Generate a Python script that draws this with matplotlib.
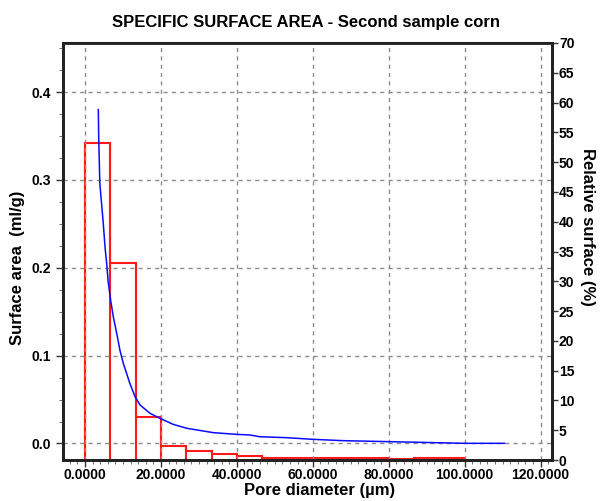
import numpy as np
import matplotlib
matplotlib.use("Agg")
import matplotlib.pyplot as plt
from matplotlib.ticker import MultipleLocator, FormatStrFormatter

plt.rcParams['font.family'] = ['Liberation Sans', 'DejaVu Sans']
plt.rcParams['font.weight'] = 'bold'

# red histogram: relative surface (%) per pore-diameter class
bin_edges = np.linspace(0, 100, 16)
rel_surface = [53.2, 33.0, 7.2, 2.35, 1.5, 1.0, 0.7, 0.3, 0.3, 0.3,
               0.3, 0.3, 0.1, 0.3, 0.3]

# blue curve: surface area (ml/g) vs pore diameter (um)
diam = [3.5, 3.6, 3.9, 4.4, 4.8, 5.3, 5.7, 6.1, 6.75, 7.46, 8.5, 9.2, 10.1,
        11.8, 13.2, 14.5, 17.1, 19.7, 23.2, 26.8, 33.8, 39.9, 43.4, 46.0,
        53.1, 59.7, 68.0, 87.3, 99.6, 110.5]
area = [0.380, 0.350, 0.296, 0.271, 0.251, 0.222, 0.205, 0.184, 0.163, 0.144,
        0.122, 0.106, 0.091, 0.0685, 0.053, 0.0438, 0.0344, 0.0287, 0.0218,
        0.0173, 0.0123, 0.0104, 0.0097, 0.0077, 0.0066, 0.0048, 0.0032,
        0.0014, 0.0002, 0.0002]

fig = plt.figure(figsize=(6.03, 5.01), dpi=100)
ax = fig.add_axes([63/603, 1 - 460/501, (552 - 63)/603, (460 - 43)/501])
ax2 = ax.twinx()

# histogram on the right axis
ax2.stairs(rel_surface, bin_edges, color='#ff1a1a', lw=1.5, baseline=0, fill=False)
for e, h_l, h_r in zip(bin_edges, [0] + rel_surface, rel_surface + [0]):
    ax2.plot([e, e], [0, max(h_l, h_r)], color='#ff1a1a', lw=1.5)

ax.plot(diam, area, color='#0a0aff', lw=1.1, zorder=5)
ax.set_zorder(ax2.get_zorder() + 1)
ax.patch.set_visible(False)

ax.set_xlim(-5.8, 123.0)
ax.set_ylim(-0.0188, 0.4558)
ax2.set_ylim(0, 70)

ax.xaxis.set_major_locator(MultipleLocator(20))
ax.xaxis.set_minor_locator(MultipleLocator(2))
ax.xaxis.set_major_formatter(FormatStrFormatter('%.4f'))
ax.yaxis.set_major_locator(MultipleLocator(0.1))
ax.yaxis.set_minor_locator(MultipleLocator(0.025))
ax.yaxis.set_major_formatter(FormatStrFormatter('%.1f'))
ax2.yaxis.set_major_locator(MultipleLocator(5))

ax.grid(True, which='major', color='#8c8c8c', ls=(0, (3, 3)), lw=1)

for a in (ax, ax2):
    a.tick_params(labelsize=10, width=1, color='#333333')
    for s in a.spines.values():
        s.set_linewidth(2)
        s.set_color('#222222')
ax.spines['top'].set_linewidth(1.5)
ax.tick_params(which='major', length=5)
ax.tick_params(axis='x', which='major', pad=1)
ax.tick_params(which='minor', length=3, color='#555555')
ax2.tick_params(length=4, pad=1)

ax.set_xlabel('Pore diameter (\u00b5m)', fontsize=12, fontweight='bold', labelpad=0)
ax.xaxis.set_label_coords(0.525, -0.055)
ax.set_ylabel('Surface area  (ml/g)', fontsize=12, fontweight='bold')
ax.yaxis.set_label_coords(-0.078, 0.46)
ax2.set_ylabel('Relative surface (%)', fontsize=12, fontweight='bold', rotation=-90)
ax2.yaxis.set_label_coords(1.087, 0.56)

fig.text(0.507, 1 - 22/501, 'SPECIFIC SURFACE AREA - Second sample corn',
         ha='center', va='center', fontsize=12, fontweight='bold')

fig.savefig('out.png', dpi=100)
